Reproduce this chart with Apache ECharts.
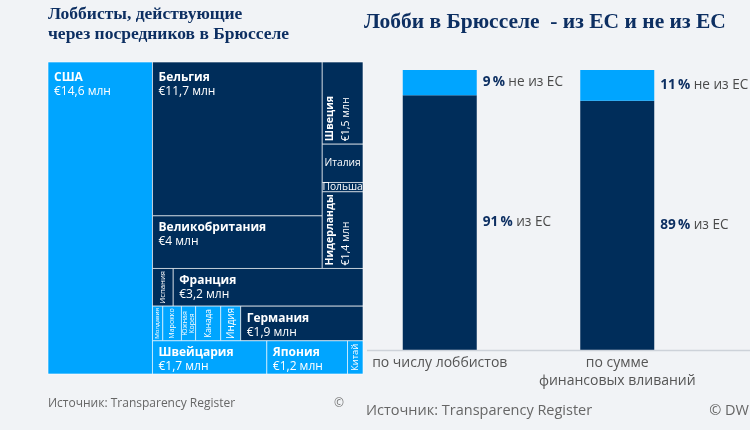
<!DOCTYPE html>
<html><head><meta charset="utf-8">
<script src="https://cdn.jsdelivr.net/npm/echarts@6/dist/echarts.min.js"></script>
<style>html,body{margin:0;padding:0;background:#f1f3f6}#c{width:750px;height:430px}</style>
</head><body><div id="c"></div>
<script>
// ---- Treemap data (million euro spent on lobbying via intermediaries) ----
const countries = ['США','Бельгия','Великобритания','Швеция','Италия','Польша','Нидерланды','Испания','Франция',
  'Молдавия','Марокко','Южная Корея','Канада','Индия','Германия','Швейцария','Япония','Китай'];
const spendingMln = [14.6, 11.7, 4, 1.5, 0.7, 0.17, 1.4, 0.35, 3.2,
  0.16, 0.29, 0.22, 0.39, 0.31, 1.9, 1.7, 1.2, 0.23];
const inEU = [false, true, true, true, true, true, true, true, true,
  false, false, false, false, false, true, false, false, false];
// grouping of the cells (nesting of the treemap)
const treeGroups = ['США', [
  [['Бельгия','Великобритания'], ['Швеция','Италия','Польша','Нидерланды']],
  ['Испания','Франция'],
  [['Молдавия','Марокко','Южная Корея','Канада','Индия'], 'Германия'],
  ['Швейцария','Япония','Китай']
]];

// ---- Bar chart data ----
const barCategories = ['по числу лоббистов', 'по сумме\nфинансовых вливаний'];
const shareEU = [91, 89];
const shareNonEU = [9, 11];

// ---- styles ----
const LIGHT = '#00a5ff', DARK = '#002d5a', TITLE = '#0d2f62';
const SANS = 'Open Sans', SERIF = 'Liberation Serif';
const TM = {left: 48, top: 62, w: 315, h: 312};

function sumOf(node) {
  if (typeof node === 'string') return spendingMln[countries.indexOf(node)];
  return node.reduce((s, c) => s + sumOf(c), 0);
}
// ordered slice layout: each group is sliced along its longer side, proportional to value
function layout(node, x0, y0, x1, y1, out) {
  if (typeof node === 'string') { out.push([x0, y0, x1, y1, countries.indexOf(node)]); return; }
  const vals = node.map(sumOf);
  const total = vals.reduce((a, b) => a + b, 0);
  const horiz = (x1 - x0) >= (y1 - y0);
  let pos = horiz ? x0 : y0;
  const span = horiz ? (x1 - x0) : (y1 - y0);
  node.forEach((child, k) => {
    const len = span * vals[k] / total;
    if (horiz) layout(child, pos, y0, pos + len, y1, out);
    else layout(child, x0, pos, x1, pos + len, out);
    pos += len;
  });
}
const cells = [];
layout(treeGroups, 0, 0, TM.w, TM.h, cells);

function fmtVal(v) { return '€' + String(v).replace('.', ',') + ' млн'; }

function labelEls(name, val, x, y, w, h) {
  const els = [];
  const rotated = h > w * 1.3 && w < 45;
  const base = {fill: '#fff', fontFamily: SANS};
  if (val >= 1) {
    if (!rotated) {
      const off = h > 100 ? 15.5 : 12;
      els.push({type: 'text', x: x + 6, y: y + off, style: Object.assign({}, base, {text: name, fontSize: 12, fontWeight: 'bold', align: 'left', verticalAlign: 'middle'})});
      els.push({type: 'text', x: x + 6, y: y + off + 14, style: Object.assign({}, base, {text: fmtVal(val), fontSize: 12, align: 'left', verticalAlign: 'middle'})});
    } else {
      els.push({type: 'text', x: x + 8, y: y + h - 3, rotation: Math.PI / 2, style: Object.assign({}, base, {text: name, fontSize: 10.5, fontWeight: 'bold', align: 'left', verticalAlign: 'middle'})});
      els.push({type: 'text', x: x + 24, y: y + h - 3, rotation: Math.PI / 2, style: Object.assign({}, base, {text: fmtVal(val), fontSize: 10.5, align: 'left', verticalAlign: 'middle'})});
    }
  } else {
    const lines = name.split(' ');
    const maxLen = Math.max.apply(null, lines.map(s => s.length));
    if (rotated) {
      const fs = Math.min(10, (h - 4) / (0.62 * maxLen), (w - 1) / (lines.length * 0.95));
      els.push({type: 'text', x: x + w / 2, y: y + h / 2, rotation: Math.PI / 2, style: Object.assign({}, base, {text: lines.join('\n'), fontSize: fs, lineHeight: fs * 0.95, align: 'center', verticalAlign: 'middle'})});
    } else {
      const fs = Math.min(10.5, (w - 4) / (0.6 * name.length));
      els.push({type: 'text', x: x + w / 2, y: y + h / 2, style: Object.assign({}, base, {text: name, fontSize: fs, align: 'center', verticalAlign: 'middle'})});
    }
  }
  return els;
}

const chart = echarts.init(document.getElementById('c'), null, {renderer: 'canvas'});
const barLabel = () => ({
  show: true, position: 'right', distance: 6,
  formatter: p => '{b|' + p.value + '\u2009%} {t|' + p.seriesName + '}',
  rich: {
    b: {fontFamily: SANS, fontWeight: 'bold', fontSize: 13.6, color: TITLE},
    t: {fontFamily: SANS, fontSize: 13.6, color: '#4a4a4a'}
  }
});
chart.setOption({
  backgroundColor: '#f1f3f6',
  animation: false,
  title: [
    {text: 'Лоббисты, действующие\nчерез посредников в Брюсселе', left: 48, top: 4, padding: 0,
      textStyle: {fontFamily: SERIF, fontSize: 17.5, fontWeight: 'bold', lineHeight: 20, color: TITLE}},
    {text: 'Лобби в Брюсселе  - из ЕС и не из ЕС', left: 364, top: 9, padding: 0,
      textStyle: {fontFamily: SERIF, fontSize: 21.5, fontWeight: 'bold', lineHeight: 26, color: TITLE}},
    {text: 'Источник: Transparency Register', left: 48, top: 396, padding: 0,
      textStyle: {fontFamily: SANS, fontSize: 12, fontWeight: 'normal', lineHeight: 16, color: '#666'}},
    {text: '©', left: 334, top: 396, padding: 0,
      textStyle: {fontFamily: SANS, fontSize: 12, fontWeight: 'normal', lineHeight: 16, color: '#777'}},
    {text: 'Источник: Transparency Register', left: 366, top: 402, padding: 0,
      textStyle: {fontFamily: SANS, fontSize: 14.5, fontWeight: 'normal', lineHeight: 18, color: '#666'}},
    {text: '© DW', right: 1, top: 402, padding: 0,
      textStyle: {fontFamily: SANS, fontSize: 14.5, fontWeight: 'normal', lineHeight: 18, color: '#666'}}
  ],
  grid: [
    {left: TM.left, top: TM.top, width: TM.w, height: TM.h},
    {left: 351, top: 70, width: 355, height: 280}
  ],
  xAxis: [
    {gridIndex: 0, type: 'value', min: 0, max: TM.w, show: false},
    {gridIndex: 1, type: 'category', data: barCategories,
      axisLine: {show: false}, axisTick: {show: false},
      axisLabel: {interval: 0, fontFamily: SANS, fontSize: 14, lineHeight: 18, color: '#555', margin: 4}}
  ],
  yAxis: [
    {gridIndex: 0, type: 'value', min: 0, max: TM.h, inverse: true, show: false},
    {gridIndex: 1, type: 'value', min: 0, max: 100, show: false}
  ],
  graphic: [
    {type: 'line', shape: {x1: 367, y1: 350.5, x2: 750, y2: 350.5}, style: {stroke: '#cdd2d9', lineWidth: 1.5}, z: 10}
  ],
  series: [
    {
      type: 'custom', xAxisIndex: 0, yAxisIndex: 0,
      data: cells,
      encode: {x: [0, 2], y: [1, 3]},
      renderItem: function (params, api) {
        const i = api.value(4);
        const p0 = api.coord([api.value(0), api.value(1)]);
        const p1 = api.coord([api.value(2), api.value(3)]);
        const x = p0[0], y = p0[1], w = p1[0] - p0[0], h = p1[1] - p0[1];
        const children = [{type: 'rect', shape: {x: x, y: y, width: w, height: h},
          style: {fill: inEU[i] ? DARK : LIGHT, stroke: 'rgba(255,255,255,0.6)', lineWidth: 1}}];
        return {type: 'group', children: children.concat(labelEls(countries[i], spendingMln[i], x, y, w, h))};
      }
    },
    {type: 'bar', name: 'из ЕС', xAxisIndex: 1, yAxisIndex: 1, stack: 'eu', data: shareEU, barWidth: 74,
      itemStyle: {color: DARK}, label: barLabel()},
    {type: 'bar', name: 'не из ЕС', xAxisIndex: 1, yAxisIndex: 1, stack: 'eu', data: shareNonEU, barWidth: 74,
      itemStyle: {color: LIGHT}, label: barLabel()}
  ]
});
</script></body></html>
